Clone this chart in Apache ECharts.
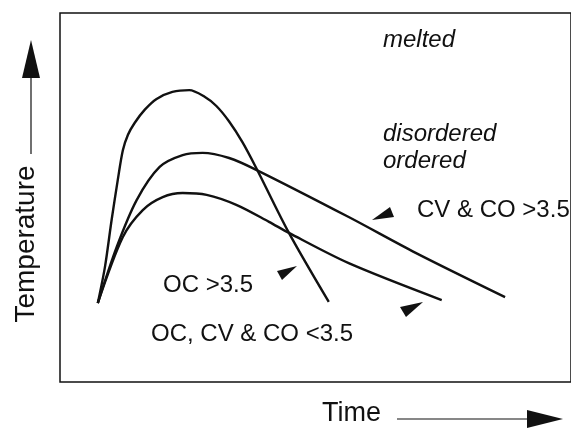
<!DOCTYPE html>
<html>
<head>
<meta charset="utf-8">
<script src="https://cdn.jsdelivr.net/npm/echarts@6/dist/echarts.min.js"></script>
<style>
  html, body { margin: 0; padding: 0; background: #fff; }
  #chart { width: 571px; height: 430px; }
</style>
</head>
<body>
<div id="chart"></div>
<script>
  // schematic cooling curves, arbitrary units (0-100)
  const seriesNames = ['OC >3.5', 'CV & CO >3.5', 'OC, CV & CO <3.5']

  const ocHigh = [
    [7.4, 21.4], [8.8, 31.2], [10.1, 43.9], [11.3, 54.7], [12.3, 62.8], [13.3, 67.0],
    [14.6, 70.2], [16.6, 73.8], [18.9, 76.7], [22.0, 78.6], [25.3, 79.1], [28.3, 77.3],
    [30.6, 74.8], [33.1, 70.6], [35.7, 65.0], [38.4, 58.0], [44.8, 40.4], [52.6, 21.7]
  ]
  const cvcoHigh = [
    [7.4, 21.4], [11.1, 36.6], [15.0, 49.3], [19.5, 58.3], [24.0, 61.5], [27.9, 62.1],
    [33.1, 60.7], [38.4, 57.5], [56.5, 44.7], [69.6, 35.0], [87.1, 23.0]
  ]
  const allLow = [
    [7.4, 21.4], [12.3, 39.3], [16.2, 46.6], [20.1, 50.1], [24.0, 51.2], [28.7, 50.7],
    [34.5, 48.0], [40.9, 43.4], [44.8, 40.4], [56.5, 32.2], [74.7, 22.2]
  ]

  const font = '"Liberation Sans", Arial, Helvetica, sans-serif'
  const ink = '#111'

  const chart = echarts.init(document.getElementById('chart'))

  function curve (name, data) {
    return {
      name: name,
      type: 'line',
      data: data,
      smooth: 0.3,
      symbol: 'none',
      lineStyle: { color: ink, width: 2.4 },
      silent: true
    }
  }

  function label (text, x, y, size, italic) {
    return {
      type: 'text',
      x: x,
      y: y,
      style: {
        text: text,
        fill: ink,
        font: (italic ? 'italic ' : '') + size + 'px ' + font,
        textVerticalAlign: 'middle'
      }
    }
  }

  function head (points) {
    return {
      type: 'polygon',
      shape: { points: points },
      style: { fill: ink }
    }
  }

  chart.setOption({
    animation: false,
    grid: {
      show: true,
      left: 60,
      top: 13,
      right: -5,
      bottom: 48,
      borderColor: ink,
      borderWidth: 1.5,
      backgroundColor: 'transparent'
    },
    xAxis: {
      type: 'value',
      min: 0,
      max: 100,
      show: false
    },
    yAxis: {
      type: 'value',
      min: 0,
      max: 100,
      show: false
    },
    series: [
      curve(seriesNames[0], ocHigh),
      curve(seriesNames[1], cvcoHigh),
      curve(seriesNames[2], allLow)
    ],
    graphic: [
      label('melted', 383, 40, 24, true),
      label('disordered', 383, 134, 24, true),
      label('ordered', 383, 161, 24, true),
      label('CV & CO >3.5', 417, 210, 24, false),
      label('OC >3.5', 163, 285, 24, false),
      label('OC, CV & CO <3.5', 151, 334, 24, false),
      head([[372, 220], [390, 207], [394, 217]]),
      head([[297, 266], [277, 271], [282, 280]]),
      head([[423, 302], [400, 307], [406, 317]]),
      // y axis title with arrow
      {
        type: 'text',
        x: 26,
        y: 244,
        rotation: Math.PI / 2,
        style: {
          text: 'Temperature',
          fill: ink,
          font: '28px ' + font,
          textAlign: 'center',
          textVerticalAlign: 'middle'
        }
      },
      {
        type: 'line',
        shape: { x1: 31, y1: 154, x2: 31, y2: 74 },
        style: { stroke: ink, lineWidth: 1.2 }
      },
      head([[31, 40], [22, 78], [40, 78]]),
      // x axis title with arrow
      label('Time', 322, 414, 27, false),
      {
        type: 'line',
        shape: { x1: 397, y1: 419, x2: 530, y2: 419 },
        style: { stroke: ink, lineWidth: 1.2 }
      },
      head([[563, 419], [527, 410], [527, 428]])
    ]
  })
</script>
</body>
</html>
